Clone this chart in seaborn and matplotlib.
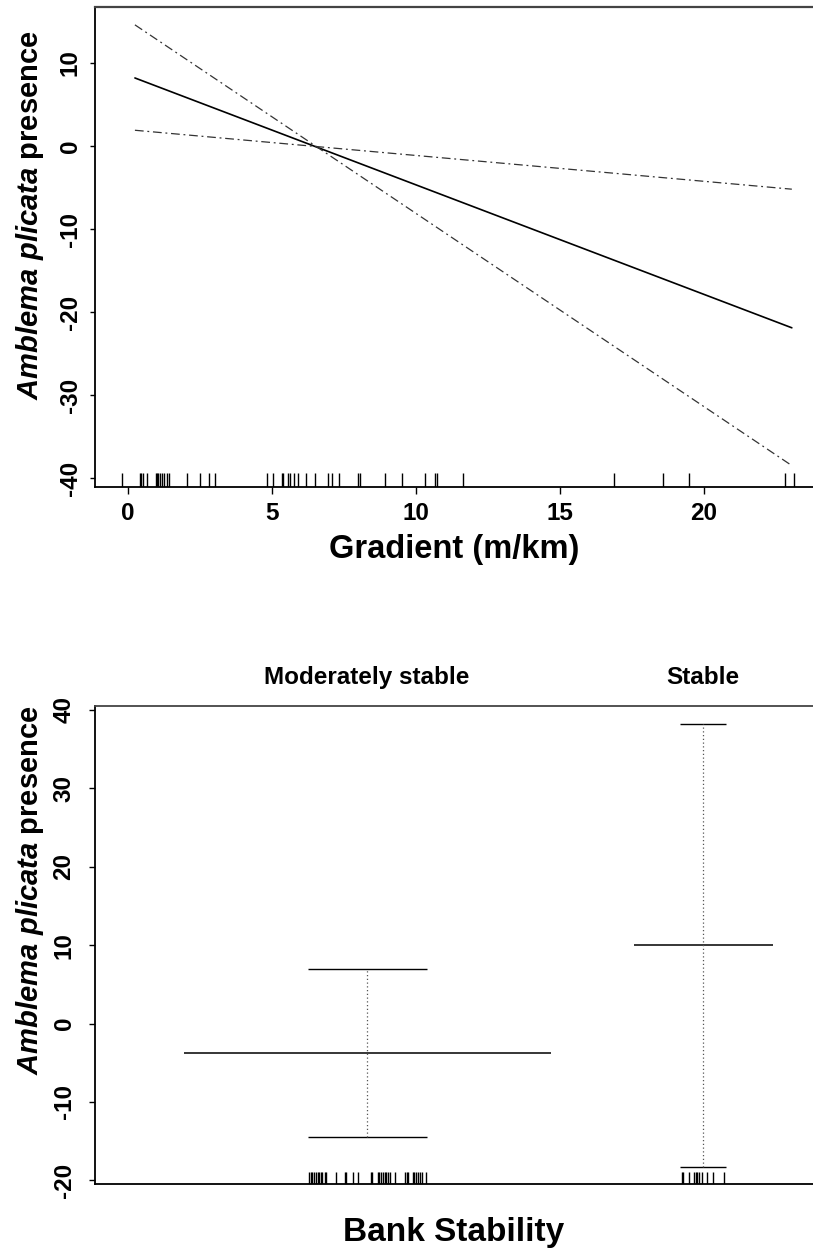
import numpy as np
import pandas as pd
import matplotlib
matplotlib.use("Agg")
import matplotlib.pyplot as plt
import seaborn as sns

# ---------------- data ----------------
# Top panel: partial effect of gradient
grad_ends = [0.24, 23.05]
grad_fit = [8.2, -21.9]
grad_upper = [14.6, -38.5]
grad_lower = [1.9, -5.2]
grad_rug = [-0.22, 0.42, 0.46, 0.51, 0.65, 0.96, 1.0, 1.05, 1.11, 1.17, 1.26, 1.34, 1.43,
            2.06, 2.5, 2.82, 3.02, 4.82, 5.02, 5.34, 5.39, 5.55, 5.63, 5.76, 5.91, 6.18,
            6.49, 6.93, 7.09, 7.34, 8.0, 8.06, 8.92, 9.5, 10.31, 10.66, 10.74, 11.64,
            16.88, 18.57, 19.49, 22.81, 23.13]
grad_xticks = [0, 5, 10, 15, 20]
grad_yticks = [-40, -30, -20, -10, 0, 10]

# Bottom panel: partial effect of bank stability
levels = ["Moderately stable", "Stable"]
level_pos = [1, 2]
bank_fit = [-3.7, 10.0]
bank_upper = [7.0, 38.2]
bank_lower = [-14.5, -18.3]
fit_halfwidth = [0.546, 0.207]
ci_halfwidth = [0.177, 0.068]
mod_rug = [0.828, 0.832, 0.837, 0.843, 0.848, 0.853, 0.858, 0.862, 0.866, 0.876, 0.879,
           0.907, 0.935, 0.938, 0.957, 0.974, 1.011, 1.014, 1.032, 1.037, 1.042, 1.047,
           1.052, 1.057, 1.062, 1.068, 1.083, 1.113, 1.118, 1.123, 1.136, 1.141, 1.146,
           1.151, 1.158, 1.163, 1.176]
stable_rug = [1.938, 1.941, 1.959, 1.974, 1.978, 1.983, 1.989, 1.998, 2.011, 2.028, 2.063]
bank_yticks = [-20, -10, 0, 10, 20, 30, 40]

# ---------------- style ----------------
sns.set_theme(style="white")
plt.rcParams["font.family"] = ["Liberation Sans", "DejaVu Sans"]
plt.rcParams["font.weight"] = "bold"
plt.rcParams["mathtext.fontset"] = "custom"
plt.rcParams["mathtext.it"] = "Liberation Sans:italic:bold"
plt.rcParams["mathtext.rm"] = "Liberation Sans:bold"
plt.rcParams["mathtext.bf"] = "Liberation Sans:bold"

W, H = 813, 1260
fig = plt.figure(figsize=(W / 100, H / 100), dpi=100)
ax1 = fig.add_axes([95 / W, 1 - 487 / H, (W - 95) / W, 480 / H])
ax2 = fig.add_axes([95 / W, 1 - 1184 / H, (W - 95) / W, 478 / H])

ylab = r"$\mathit{Amblema\ plicata}$ presence"
dashdot = (0, (7, 3, 1.5, 3))

# ---------------- top panel ----------------
sns.lineplot(x=grad_ends, y=grad_fit, ax=ax1, color="black", lw=1.2)
sns.lineplot(x=grad_ends, y=grad_upper, ax=ax1, color="#333333", lw=0.9, linestyle=dashdot)
sns.lineplot(x=grad_ends, y=grad_lower, ax=ax1, color="#333333", lw=0.9, linestyle=dashdot)
sns.rugplot(x=grad_rug, ax=ax1, height=14 / 480, color="black", lw=0.9, expand_margins=False)

ax1.set_xlim(-1.146, 23.785)
ax1.set_ylim(-41.08, 16.75)
ax1.set_xticks(grad_xticks)
ax1.set_yticks(grad_yticks)
ax1.set_xticklabels([str(v) for v in grad_xticks])
ax1.set_yticklabels([str(v) for v in grad_yticks])
ax1.tick_params(axis="x", bottom=True, direction="out", length=5, width=1, pad=6,
                labelsize=17.5, colors="black")
ax1.tick_params(axis="y", left=True, direction="out", length=3.5, width=1, pad=6,
                labelsize=17.5, labelrotation=90, colors="black")
for lbl in ax1.get_yticklabels():
    lbl.set_va("center")
ax1.set_xlabel("Gradient (m/km)", fontsize=23.5, fontweight="bold", labelpad=6, color="black")
ax1.set_ylabel(ylab, fontsize=21, fontweight="bold", color="black")
ax1.yaxis.label.set_va("center")
ax1.yaxis.set_label_coords((30 - 95) / 718, (487 - 215) / 480)
ax1.spines["right"].set_visible(False)
for s in ["left", "bottom"]:
    ax1.spines[s].set_color("black")
    ax1.spines[s].set_linewidth(1.3)
ax1.spines["top"].set_color("#444444")
ax1.spines["top"].set_linewidth(1.6)

# ---------------- bottom panel ----------------
for pos, f, up, lo, fh, ch in zip(level_pos, bank_fit, bank_upper, bank_lower,
                                  fit_halfwidth, ci_halfwidth):
    ax2.hlines(f, pos - fh, pos + fh, color="black", lw=1.1)
    ax2.hlines([up, lo], pos - ch, pos + ch, color="black", lw=1.0)
    ax2.vlines(pos, lo, up, color="#555555", lw=0.9, linestyle=(0, (1, 2)))
sns.rugplot(x=mod_rug + stable_rug, ax=ax2, height=12 / 478, color="black", lw=0.8,
            expand_margins=False)

ax2.set_xlim(0.1905, 2.327)
ax2.set_ylim(-20.47, 40.5)
ax2.set_yticks(bank_yticks)
ax2.set_yticklabels([str(v) for v in bank_yticks])
ax2.xaxis.tick_top()
ax2.set_xticks(level_pos)
ax2.set_xticklabels(levels)
ax2.tick_params(axis="x", top=True, bottom=False, length=0, pad=12, labelsize=17.5,
                colors="black")
ax2.tick_params(axis="y", left=True, direction="out", length=4, width=1, pad=10,
                labelsize=17.5, labelrotation=90, colors="black")
for lbl in ax2.get_yticklabels():
    lbl.set_va("center")
ax2.xaxis.set_label_position("bottom")
ax2.set_xlabel("Bank Stability", fontsize=24, fontweight="bold", labelpad=24, color="black")
ax2.set_ylabel(ylab, fontsize=21, fontweight="bold", color="black")
ax2.yaxis.label.set_va("center")
ax2.yaxis.set_label_coords((30 - 95) / 718, (1184 - 890) / 478)
ax2.spines["right"].set_visible(False)
for s in ["left", "bottom"]:
    ax2.spines[s].set_color("black")
    ax2.spines[s].set_linewidth(1.3)
ax2.spines["top"].set_color("#444444")
ax2.spines["top"].set_linewidth(1.3)

fig.savefig("out.png", dpi=100)
